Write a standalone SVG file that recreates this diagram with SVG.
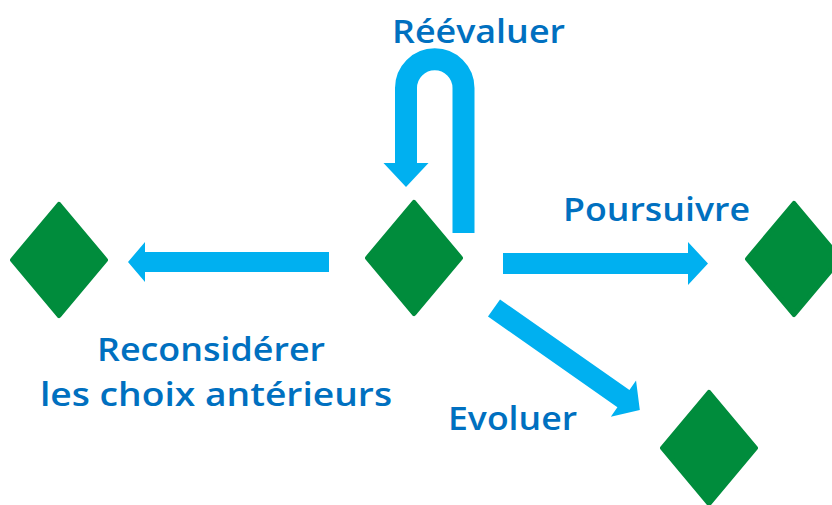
<svg xmlns="http://www.w3.org/2000/svg" width="832" height="505" viewBox="0 0 832 505">
<style>
.lbl{font-family:"Open Sans","Liberation Sans",sans-serif;font-weight:600;font-size:32px;fill:#0070C0}
.dia{fill:#008C3C;stroke:#008C3C;stroke-width:5;stroke-linejoin:round}
.arr{fill:#00B0F0}
</style>
<defs>
<polygon id="d" points="0,-55.5 46.5,0 0,55.5 -46.5,0"/>
</defs>
<rect width="832" height="505" fill="#ffffff"/>
<g id="connectors">
<path d="M463.5 233 V88 A28.75 28.75 0 0 0 406 88 V164" fill="none" stroke="#00B0F0" stroke-width="22"/>
<polygon class="arr" points="383.5,163 428.5,163 406,187"/>
<polygon class="arr" points="329,252 145,252 145,242 128,262 145,282 145,272 329,272"/>
<polygon class="arr" points="503,253 688,253 688,242 708,263.5 688,285 688,274 503,274"/>
<polygon class="arr" transform="translate(494,308) rotate(35)" points="0,-10.5 158,-10.5 158,-22 178,0 158,22 158,10.5 0,10.5"/>
</g>
<g id="node-center"><use href="#d" class="dia" transform="translate(414,258)"/></g>
<g id="node-left"><use href="#d" class="dia" transform="translate(59,260)"/></g>
<g id="node-right"><use href="#d" class="dia" transform="translate(794,259)"/></g>
<g id="node-bottom"><use href="#d" class="dia" transform="translate(709,448)"/></g>
<g id="labels">
<text class="lbl" x="392" y="43" textLength="173" lengthAdjust="spacingAndGlyphs">Réévaluer</text>
<text class="lbl" x="563" y="221" textLength="187" lengthAdjust="spacingAndGlyphs">Poursuivre</text>
<text class="lbl" x="97" y="361" textLength="228" lengthAdjust="spacingAndGlyphs">Reconsidérer</text>
<text class="lbl" x="40" y="406" textLength="352" lengthAdjust="spacingAndGlyphs">les choix antérieurs</text>
<text class="lbl" x="448" y="430" textLength="129" lengthAdjust="spacingAndGlyphs">Evoluer</text>
</g>
</svg>
